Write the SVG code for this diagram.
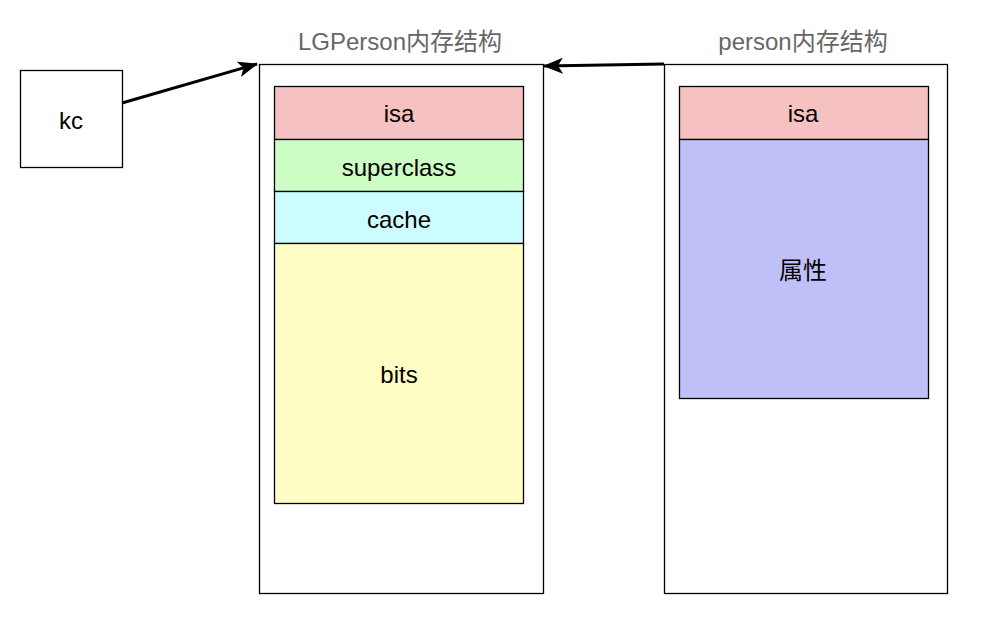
<svg xmlns="http://www.w3.org/2000/svg" width="1006" height="644" viewBox="0 0 1006 644">
<defs>
<marker id="arr" markerWidth="20" markerHeight="16" refX="19" refY="8" orient="auto" markerUnits="userSpaceOnUse" viewBox="0 0 20 16">
<path d="M0,0 L20,8 L0,16 L5,8 Z" fill="#000"/>
</marker>
</defs>
<style>
.box{stroke:#000;stroke-width:1.3}
.lbl{font-family:"Liberation Sans",Arial,sans-serif;font-size:24px;fill:#000;text-anchor:middle;dominant-baseline:central}
.ttl{font-family:"Liberation Sans","Noto Sans CJK SC",sans-serif;font-size:24px;fill:#666;text-anchor:middle;dominant-baseline:central}
.cn{font-family:"Liberation Sans","Noto Sans CJK SC",sans-serif}
</style>
<rect width="1006" height="644" fill="#fff"/>
<g id="kc">
<rect class="box" x="20.5" y="70.5" width="102" height="97" fill="#fff"/>
<text class="lbl" x="71" y="120">kc</text>
</g>
<g id="lgperson">
<text class="ttl" x="400" y="41">LGPerson内存结构</text>
<rect class="box" x="259.5" y="64.5" width="284" height="529" fill="#fff"/>
<g id="lg-isa"><rect class="box" x="274.5" y="86.5" width="249" height="53" fill="#f5c1c1"/><text class="lbl" x="399" y="113">isa</text></g>
<g id="lg-superclass"><rect class="box" x="274.5" y="139.5" width="249" height="52" fill="#ccfdc5"/><text class="lbl" x="399" y="167">superclass</text></g>
<g id="lg-cache"><rect class="box" x="274.5" y="191.5" width="249" height="52" fill="#ccfcff"/><text class="lbl" x="399" y="219">cache</text></g>
<g id="lg-bits"><rect class="box" x="274.5" y="243.5" width="249" height="260" fill="#fefec5"/><text class="lbl" x="399" y="374">bits</text></g>
</g>
<g id="person">
<text class="ttl" x="803" y="41">person内存结构</text>
<rect class="box" x="664.5" y="64.5" width="283" height="529" fill="#fff"/>
<g id="p-isa"><rect class="box" x="679.5" y="86.5" width="249" height="53" fill="#f5c1c1"/><text class="lbl" x="803" y="113">isa</text></g>
<g id="p-attr"><rect class="box" x="679.5" y="139.5" width="249" height="259" fill="#c0c0f8"/><text class="lbl cn" x="803" y="270">属性</text></g>
</g>
<g id="connectors" stroke="#000" stroke-width="3" fill="none">
<line x1="122" y1="103" x2="257" y2="64" marker-end="url(#arr)"/>
<line x1="664" y1="64" x2="544" y2="66" marker-end="url(#arr)"/>
</g>
</svg>
